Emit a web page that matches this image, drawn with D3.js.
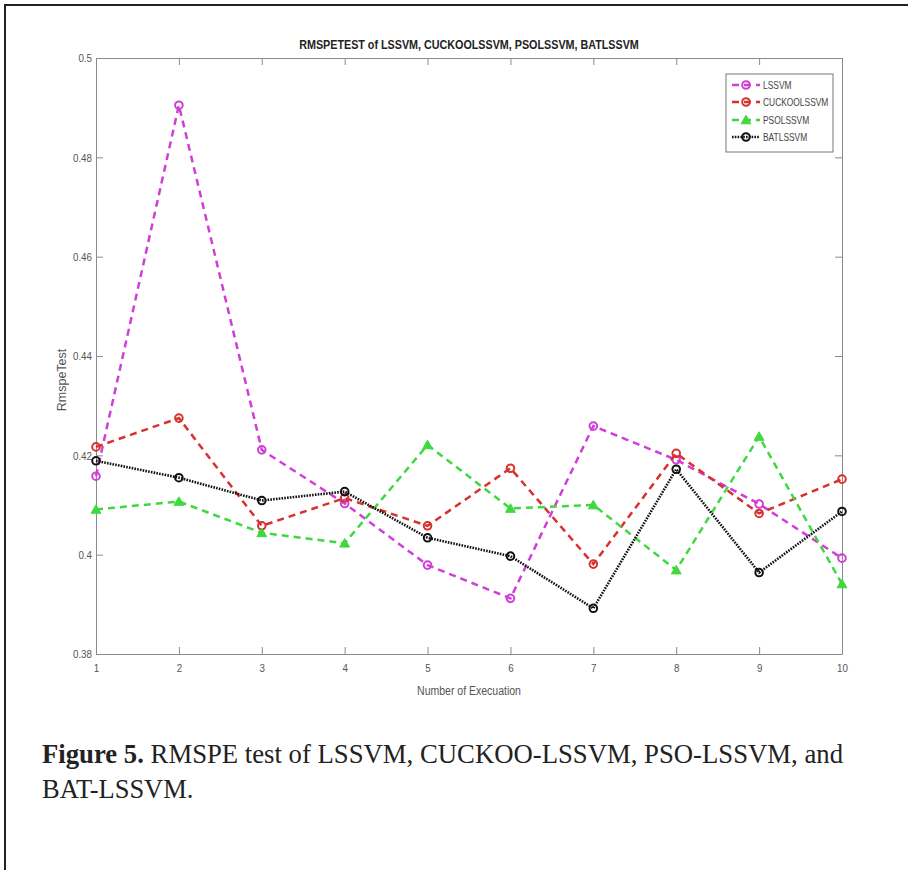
<!DOCTYPE html>
<html><head><meta charset="utf-8">
<script src="https://cdn.jsdelivr.net/npm/d3@7"></script>
<style>body{margin:0;background:#fff} svg{display:block}</style>
</head><body>
<svg id="c" width="908" height="870"></svg>
<script>
const executions = [1,2,3,4,5,6,7,8,9,10];
const lssvm   = [0.4158, 0.4905, 0.4211, 0.4103, 0.3979, 0.3912, 0.4259, 0.4191, 0.4102, 0.3993];
const cuckoo  = [0.4217, 0.4275, 0.4058, 0.4114, 0.4058, 0.4174, 0.3981, 0.4204, 0.4083, 0.4152];
const pso     = [0.4091, 0.4107, 0.4044, 0.4023, 0.4221, 0.4093, 0.4100, 0.3969, 0.4238, 0.3941];
const bat     = [0.4189, 0.4155, 0.4109, 0.4127, 0.4034, 0.3997, 0.3892, 0.4172, 0.3964, 0.4087];
const seriesNames = ["LSSVM","CUCKOOLSSVM","PSOLSSVM","BATLSSVM"];
const yTicks = [0.38,0.4,0.42,0.44,0.46,0.48,0.5];
const yTickLabels = ["0.38","0.4","0.42","0.44","0.46","0.48","0.5"];
const xTickLabels = ["1","2","3","4","5","6","7","8","9","10"];
const titleText = "RMSPETEST of LSSVM, CUCKOOLSSVM, PSOLSSVM, BATLSSVM";
const xLabel = "Number of Execuation";
const yLabel = "RmspeTest";
const captionBold = "Figure 5.";
const captionRest1 = " RMSPE test of LSSVM, CUCKOO-LSSVM, PSO-LSSVM, and";
const captionLine2 = "BAT-LSSVM.";

const styles = [
  {color:"#cf3fd8", dash:"7,5", marker:"circle", width:2.5},
  {color:"#d8322e", dash:"7,5", marker:"circle", width:2.5},
  {color:"#3fd93f", dash:"7,5", marker:"triangle", width:2.5},
  {color:"#111111", dash:"1.6,1.2", marker:"circle", width:2.6}
];
const seriesData = [lssvm, cuckoo, pso, bat];

const svg = d3.select("#c");
const FONT = "'Liberation Sans',Arial,sans-serif";
// condense text horizontally to mimic the narrow font of the reference
function narrow(sel, f){
  sel.each(function(){
    const n = this.getComputedTextLength();
    if(n>0) d3.select(this).attr("textLength", n*f).attr("lengthAdjust","spacingAndGlyphs");
  });
}

// outer frame
svg.append("rect").attr("x",5).attr("y",5).attr("width",920).attr("height",900)
  .attr("fill","none").attr("stroke","#222").attr("stroke-width",2);

const x = d3.scaleLinear().domain([1,10]).range([96,842]);
const y = d3.scaleLinear().domain([0.38,0.5]).range([654,58]);

const axisColor = "#8a8a8a", textColor = "#555";
function styleAxis(g){
  g.selectAll("path,line").attr("stroke",axisColor).attr("stroke-width",1);
  g.selectAll("text").attr("fill",textColor).style("font-family",FONT).style("font-size","11.5px");
}
const ya = svg.append("g").attr("transform","translate(96,0)")
  .call(d3.axisLeft(y).tickValues(yTicks).tickFormat((d,i)=>yTickLabels[i]).tickSizeInner(-7).tickSizeOuter(0).tickPadding(4))
  .call(styleAxis);
narrow(ya.selectAll("text"), 0.85);
svg.append("g").attr("transform","translate(842,0)")
  .call(d3.axisRight(y).tickValues(yTicks).tickFormat("").tickSizeInner(-7).tickSizeOuter(0))
  .call(styleAxis);
const xa = svg.append("g").attr("transform","translate(0,654)")
  .call(d3.axisBottom(x).tickValues(executions).tickFormat((d,i)=>xTickLabels[i]).tickSizeInner(-7).tickSizeOuter(0).tickPadding(10))
  .call(styleAxis);
narrow(xa.selectAll("text"), 0.85);
svg.append("g").attr("transform","translate(0,58)")
  .call(d3.axisTop(x).tickValues(executions).tickFormat("").tickSizeInner(-7).tickSizeOuter(0))
  .call(styleAxis);

// title and labels
svg.append("text").attr("x",469).attr("y",49).attr("text-anchor","middle")
  .style("font-family",FONT).style("font-size","12.5px").style("font-weight","bold").attr("fill","#222")
  .text(titleText).call(narrow, 0.86);
svg.append("text").attr("x",469).attr("y",695).attr("text-anchor","middle")
  .style("font-family",FONT).style("font-size","12.5px").attr("fill",textColor).text(xLabel).call(narrow, 0.84);
svg.append("text").attr("transform","translate(66,380) rotate(-90)").attr("text-anchor","middle")
  .style("font-family",FONT).style("font-size","12.5px").attr("fill",textColor).text(yLabel);

// lines
const line = d3.line().x((d,i)=>x(executions[i])).y(d=>y(d));
function drawMarker(g, st, cx, cy){
  if(st.marker==="circle"){
    g.append("circle").attr("cx",cx).attr("cy",cy).attr("r",3.8)
      .attr("fill","none").attr("stroke",st.color).attr("stroke-width",2);
  } else {
    g.append("path").attr("d",d3.symbol(d3.symbolTriangle,42)())
      .attr("transform",`translate(${cx},${cy+1})`)
      .attr("fill",st.color).attr("stroke",st.color).attr("stroke-width",1);
  }
}
seriesData.forEach((vals,si)=>{
  const st = styles[si];
  const g = svg.append("g");
  g.append("path").attr("d",line(vals)).attr("fill","none").attr("stroke",st.color)
    .attr("stroke-width",st.width).attr("stroke-dasharray",st.dash);
  vals.forEach((v,i)=>drawMarker(g, st, x(executions[i]), y(v)));
});

// legend
const lg = svg.append("g");
lg.append("rect").attr("x",726).attr("y",74).attr("width",107).attr("height",78)
  .attr("fill","#fff").attr("stroke","#777").attr("stroke-width",1);
const legY = [85,102,120,137];
seriesNames.forEach((n,i)=>{
  const st = styles[i];
  lg.append("line").attr("x1",732).attr("x2",760).attr("y1",legY[i]).attr("y2",legY[i])
    .attr("stroke",st.color).attr("stroke-width",st.width).attr("stroke-dasharray",st.dash);
  drawMarker(lg, st, 746, legY[i]);
  lg.append("text").attr("x",763).attr("y",legY[i]+4).style("font-family",FONT).style("font-size","10.5px")
    .attr("fill","#444").text(n).call(narrow, 0.8);
});

// caption
const SERIF = "'Liberation Serif','Times New Roman',serif";
const cap1 = svg.append("text").attr("x",42).attr("y",763)
  .style("font-family",SERIF).style("font-size","26.5px").attr("fill","#222");
cap1.append("tspan").style("font-weight","bold").text(captionBold);
cap1.append("tspan").text(captionRest1);
narrow(cap1, 801/ Math.max(1, cap1.node().getComputedTextLength()));
svg.append("text").attr("x",42).attr("y",798)
  .style("font-family",SERIF).style("font-size","26.5px").attr("fill","#222")
  .text(captionLine2);
</script>
</body></html>
